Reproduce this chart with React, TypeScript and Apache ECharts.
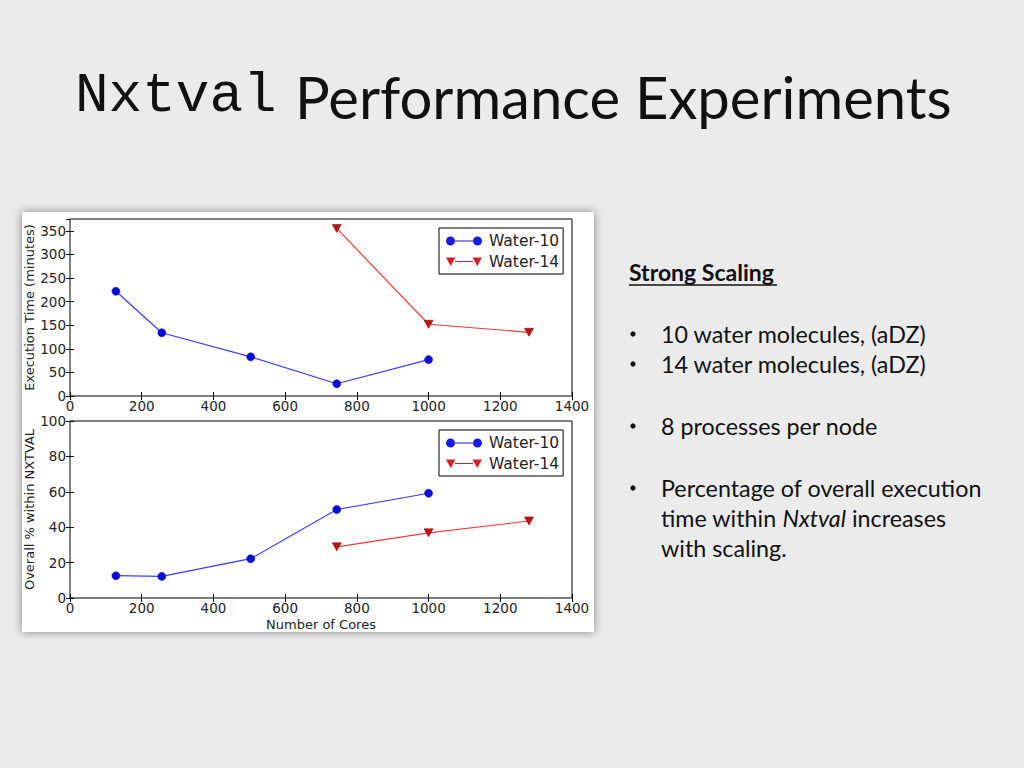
import React, { useEffect, useRef } from "react";
import * as echarts from "echarts";

const cores10 = [128, 256, 504, 744, 1000];
const cores14 = [744, 1000, 1280];
const time10 = [222, 134, 83, 26, 77];
const time14 = [355, 152, 135];
const pct10 = [12.6, 12.2, 22.2, 50.0, 59.2];
const pct14 = [28.9, 36.8, 43.5];
const seriesNames = ["Water-10", "Water-14"];
const bullets = [
  "10 water molecules, (aDZ)",
  "14 water molecules, (aDZ)",
  "8 processes per node",
];

const zip = (xs: number[], ys: number[]) => xs.map((x, i) => [x, ys[i]]);

const BLUE_LINE = "#3b3bff";
const BLUE_MARK = "#0b0bd6";
const RED_LINE = "#f03a3a";
const RED_MARK = "#c01414";
const TRI_DOWN = "path://M0,0 L10,0 L5,9 Z";
const ICON_CIRCLES =
  "path://M0,4.5 A4.5,4.5 0 1,0 9,4.5 A4.5,4.5 0 1,0 0,4.5 Z M27,4.5 A4.5,4.5 0 1,0 36,4.5 A4.5,4.5 0 1,0 27,4.5 Z M9,3.9 L27,3.9 L27,5.1 L9,5.1 Z";
const ICON_TRIS =
  "path://M0,0 L9.5,0 L4.75,8.5 Z M26.5,0 L36,0 L31.25,8.5 Z M9,3.4 L27,3.4 L27,4.6 L9,4.6 Z M0,0 L0.01,0 L0.01,9 L0,9 Z";
const AX_FONT = "DejaVu Sans";
const TXT_FONT = "Lato";
const plain = (v: number) => String(v);

function xAxes(grid: number, showLabels: boolean, name: string) {
  const base = {
    type: "value" as const,
    gridIndex: grid,
    min: 0,
    max: 1400,
    interval: 200,
    splitLine: { show: false },
    axisLine: { show: false },
    axisTick: { inside: true, length: 4, lineStyle: { color: "#000" } },
  };
  return [
    {
      ...base,
      position: "bottom",
      name,
      nameLocation: "middle",
      nameGap: 20,
      nameTextStyle: { fontFamily: AX_FONT, fontSize: 13, color: "#222" },
      axisLabel: { show: showLabels, fontFamily: AX_FONT, fontSize: 13.5, color: "#222", margin: 3, formatter: plain },
    },
    { ...base, position: "top", axisLabel: { show: false } },
  ];
}

function yAxes(grid: number, max: number, interval: number, name: string, hideMax: boolean) {
  const base = {
    type: "value" as const,
    gridIndex: grid,
    min: 0,
    max,
    interval,
    splitLine: { show: false },
    axisLine: { show: false },
    axisTick: { inside: true, length: 4, lineStyle: { color: "#000" } },
  };
  return [
    {
      ...base,
      position: "left",
      name,
      nameLocation: "middle",
      nameGap: 33,
      nameTextStyle: { fontFamily: AX_FONT, fontSize: 13, color: "#222" },
      axisLabel: { fontFamily: AX_FONT, fontSize: 13.5, color: "#222", margin: 4, showMaxLabel: !hideMax, formatter: plain },
    },
    { ...base, position: "right", axisLabel: { show: false } },
  ];
}

function lineSeries(name: string, data: number[][], grid: number, blue: boolean) {
  return {
    type: "line" as const,
    name,
    xAxisIndex: grid * 2,
    yAxisIndex: grid * 2,
    data,
    symbol: blue ? "circle" : TRI_DOWN,
    symbolSize: blue ? 8 : [9, 8],
    lineStyle: { color: blue ? BLUE_LINE : RED_LINE, width: 1.2 },
    itemStyle: { color: blue ? BLUE_MARK : RED_MARK, borderColor: blue ? BLUE_MARK : "#8a0000", borderWidth: 0.6 },
    emphasis: { disabled: true },
  };
}

function legend(top: number) {
  return {
    left: 439,
    top,
    orient: "vertical" as const,
    data: [
      { name: seriesNames[0], icon: ICON_CIRCLES, itemStyle: { color: "#1a1ae6", borderWidth: 0 } },
      { name: seriesNames[1], icon: ICON_TRIS, itemStyle: { color: "#d42020", borderWidth: 0 } },
    ],
    backgroundColor: "#fff",
    borderColor: "#000",
    borderWidth: 1,
    borderRadius: 0,
    padding: [5, 4, 4, 7],
    itemGap: 5,
    itemWidth: 36,
    itemHeight: 9,
    textStyle: { fontFamily: AX_FONT, fontSize: 15.5, color: "#222", padding: [0, 0, 0, 2] },
    selectedMode: false,
  };
}

export default function App() {
  const ref = useRef<HTMLDivElement>(null);
  useEffect(() => {
    if (!ref.current) return;
    const chart = echarts.init(ref.current, undefined, { renderer: "svg" });
    const FS = 23.3;
    const bodyText = (y: number, text: string, rich?: any) => ({
      type: "text",
      x: 661,
      y,
      style: {
        text,
        fontFamily: TXT_FONT,
        fontSize: FS,
        fill: "#111",
        textVerticalAlign: "middle",
        rich,
      },
    });
    const bullet = (y: number) => ({
      type: "circle",
      shape: { cx: 633, cy: y, r: 2.6 },
      style: { fill: "#111" },
    });
    const bulletYs = [334, 364, 426];
    chart.setOption({
      animation: false,
      backgroundColor: "#ebebeb",
      grid: [
        { left: 70, top: 219, width: 502, height: 177, show: true, borderColor: "#000", borderWidth: 1, backgroundColor: "transparent" },
        { left: 70, top: 421, width: 502, height: 177, show: true, borderColor: "#000", borderWidth: 1, backgroundColor: "transparent" },
      ],
      xAxis: [...xAxes(0, true, ""), ...xAxes(1, true, "Number of Cores")],
      yAxis: [
        ...yAxes(0, 375, 50, "Execution Time (minutes)", true),
        ...yAxes(1, 100, 20, "Overall % within NXTVAL", false),
      ],
      legend: [legend(228), legend(430)],
      series: [
        lineSeries(seriesNames[0], zip(cores10, time10), 0, true),
        lineSeries(seriesNames[1], zip(cores14, time14), 0, false),
        lineSeries(seriesNames[0], zip(cores10, pct10), 1, true),
        lineSeries(seriesNames[1], zip(cores14, pct14), 1, false),
      ],
      graphic: [
        {
          type: "rect",
          z: -10,
          silent: true,
          shape: { x: 22, y: 212, width: 572, height: 420 },
          style: { fill: "#fff", shadowBlur: 10, shadowColor: "rgba(0,0,0,0.45)" },
        },
        {
          type: "text",
          x: 75,
          y: 96,
          style: { text: "Nxtval", fontFamily: "Liberation Mono", fontSize: 56, fill: "#111", textVerticalAlign: "middle" },
        },
        {
          type: "text",
          x: 295,
          y: 96,
          style: { text: "Performance Experiments", fontFamily: TXT_FONT, fontSize: 58, fill: "#111", textVerticalAlign: "middle" },
        },
        {
          type: "text",
          x: 629,
          y: 272,
          style: { text: "Strong Scaling", fontFamily: TXT_FONT, fontSize: 23, fontWeight: "bold", fill: "#111", textVerticalAlign: "middle" },
        },
        { type: "line", shape: { x1: 629, y1: 285, x2: 777, y2: 285 }, style: { stroke: "#111", lineWidth: 1.4 } },
        ...bulletYs.map((y) => bullet(y)),
        ...bulletYs.map((y, i) => bodyText(y, bullets[i])),
        bullet(488),
        bodyText(488, "Percentage of overall execution"),
        bodyText(518, "time within {i|Nxtval} increases", {
          i: { fontFamily: TXT_FONT, fontSize: FS, fontStyle: "italic", fill: "#111" },
        }),
        bodyText(548, "with scaling."),
      ],
    });
    return () => chart.dispose();
  }, []);
  return <div ref={ref} style={{ position: "absolute", left: 0, top: 0, width: 1024, height: 768 }} />;
}
